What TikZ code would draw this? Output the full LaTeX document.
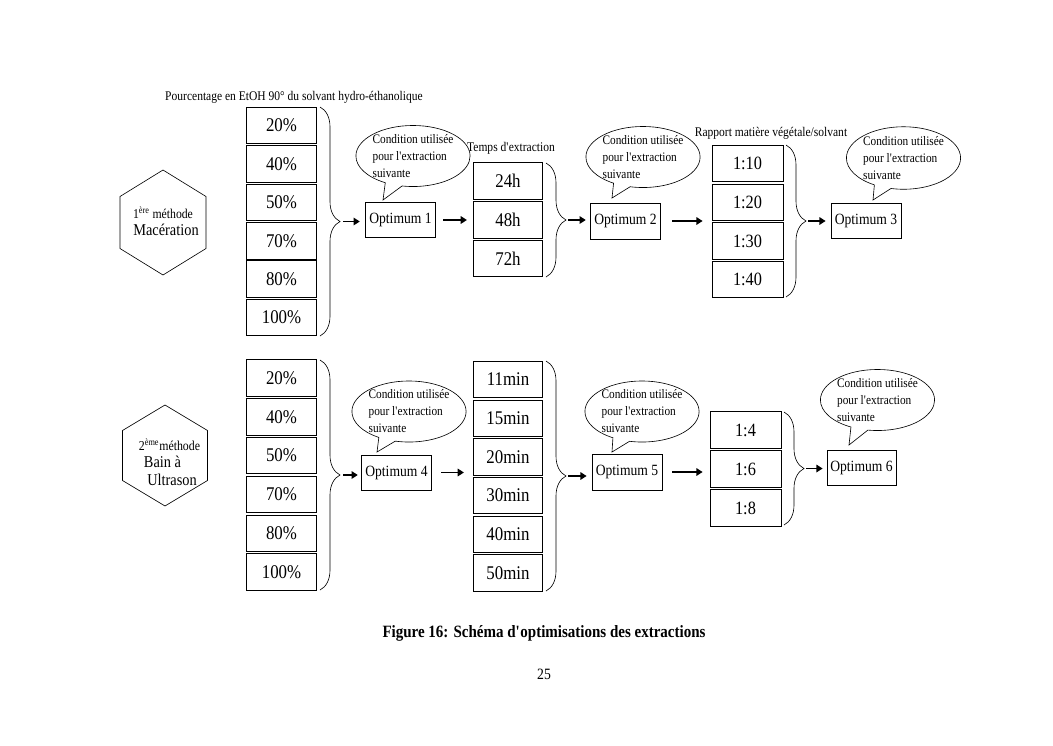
\documentclass[tikz,border=0pt]{standalone}
\usepackage{fontspec}
\setmainfont{Liberation Serif}[FakeStretch=0.87]
\usetikzlibrary{shapes.geometric,shapes.callouts,decorations.pathreplacing,arrows.meta}
\begin{document}
\begin{tikzpicture}[x=0.8pt,y=-0.8pt,
 box/.style={draw, line width=0.6pt, minimum width=55.5pt, minimum height=29.2pt, inner sep=0pt, font=\fontsize{15.5}{17}\selectfont},
 rbox/.style={box, minimum width=56.8pt, font=\fontsize{15}{17}\selectfont},
 optbox/.style={draw, line width=0.6pt, minimum width=56.5pt, minimum height=28pt, inner sep=0pt, font=\fontsize{12.5}{14}\selectfont},
 lab/.style={inner sep=0pt, font=\fontsize{10.6}{12}\selectfont},
 bubble/.style={ellipse callout, draw, line width=0.5pt, inner sep=0pt, minimum width=87pt, minimum height=48pt, align=left, callout pointer arc=18, font=\fontsize{10.4}{13.6}\selectfont},
 brc/.style={decorate, decoration={brace, amplitude=16pt}, line width=0.5pt},
 arr/.style={-{Triangle[length=5pt,width=6pt]}, line width=1.5pt},
 hexline/.style={draw, line width=0.5pt},
 hextext/.style={inner sep=0pt, align=center}
]
\useasboundingbox (0,0) rectangle (1053,745);

% ---------- Top row ----------
\node[lab] (lab1) at (294,97) {Pourcentage en EtOH 90° du solvant hydro-éthanolique};
\node[lab] (lab2) at (511,148) {Temps d\textquotesingle extraction};
\node[lab] (lab3) at (771,133) {Rapport matière végétale/solvant};

% hexagon 1
\coordinate (h1) at (163,222.5);
\draw[hexline] ([shift={(0,-52.5)}]h1) -- ([shift={(43,-26)}]h1) -- ([shift={(43,26)}]h1) -- ([shift={(0,52.5)}]h1) -- ([shift={(-43,26)}]h1) -- ([shift={(-43,-26)}]h1) -- cycle;
\node[hextext, font=\fontsize{10.8}{12}\selectfont] (h1a) at (163,213) {1\textsuperscript{ère} méthode};
\node[hextext, font=\fontsize{13.2}{15}\selectfont] (h1b) at (166,230) {Macération};

\foreach \t [count=\i] in {20,40,50,70,80,100}
  \node[box] (a\i) at (281.5,{125.5+38.4*(\i-1)}) {\t\%};
\foreach \t [count=\i] in {24h,48h,72h}
  \node[box] (t\i) at (508,{181+38.75*(\i-1)}) {\t};
\foreach \t [count=\i] in {1:10,1:20,1:30,1:40}
  \node[rbox] (r\i) at (747.5,{163.5+38.7*(\i-1)}) {\t};

\node[optbox] (o1) at (400.5,220) {Optimum 1};
\node[optbox, minimum height=28.8pt] (o2) at (625.5,221) {Optimum 2};
\node[optbox, minimum width=56pt] (o3) at (866,220.5) {Optimum 3};

% braces
\coordinate (b1s) at (320,107); \coordinate (b1e) at (320,336); \coordinate (b1) at (340,221.5);
\coordinate (b2s) at (546,163); \coordinate (b2e) at (546,277); \coordinate (b2) at (566,220);
\coordinate (b3s) at (786,145); \coordinate (b3e) at (786,297); \coordinate (b3) at (806,221);
\draw[brc] (b1s) -- (b1e);
\draw[brc] (b2s) -- (b2e);
\draw[brc] (b3s) -- (b3e);

% bubbles
\coordinate (q1) at (383,200);
\coordinate (q2) at (612,198);
\coordinate (q3) at (873,200);
\node[bubble, callout absolute pointer={(q1)}] (c1) at (413,156) {Condition utilisée\\pour l\textquotesingle extraction\\suivante};
\node[bubble, callout absolute pointer={(q2)}] (c2) at (643,157) {Condition utilisée\\pour l\textquotesingle extraction\\suivante};
\node[bubble, callout absolute pointer={(q3)}, minimum height=50pt] (c3) at (903.5,158) {Condition utilisée\\pour l\textquotesingle extraction\\suivante};

% arrows
\draw[arr, shorten <=2.4pt, shorten >=4pt] (b1) -- (b1 -| o1.west);
\draw[arr, shorten <=5.6pt, shorten >=4.8pt] (o1.east) -- (o1.east -| t2.west);
\draw[arr, shorten <=1.6pt, shorten >=3.2pt] (b2) -- (b2 -| o2.west);
\draw[arr, shorten <=8.8pt, shorten >=7.2pt] (o2.east) -- (o2.east -| r2.west);
\draw[arr, shorten <=1.6pt, shorten >=4pt] (b3) -- (b3 -| o3.west);

% ---------- Bottom row ----------
\coordinate (h2) at (165,455.5);
\draw[hexline] ([shift={(0,-50.5)}]h2) -- ([shift={(42.5,-25)}]h2) -- ([shift={(42.5,25)}]h2) -- ([shift={(0,50.5)}]h2) -- ([shift={(-42.5,25)}]h2) -- ([shift={(-42.5,-25)}]h2) -- cycle;
\node[hextext, font=\fontsize{10.9}{12}\selectfont] (h2a) at (169.5,445) {2\textsuperscript{ème}méthode};
\node[hextext, font=\fontsize{13.2}{15}\selectfont] (h2b) at (162.5,462) {Bain à};
\node[hextext, font=\fontsize{13.2}{15}\selectfont] (h2c) at (172,480) {Ultrason};

\foreach \t [count=\i] in {20,40,50,70,80,100}
  \node[box] (p\i) at (281.5,{378+38.8*(\i-1)}) {\t\%};
\foreach \t [count=\i] in {11min,15min,20min,30min,40min,50min}
  \node[box] (m\i) at (508,{379.5+38.7*(\i-1)}) {\t};
\foreach \t [count=\i] in {1:4,1:6,1:8}
  \node[rbox] (s\i) at (745.5,{430+39*(\i-1)}) {\t};

\node[optbox] (o4) at (396.5,472.5) {Optimum 4};
\node[optbox, minimum width=56pt, minimum height=28.8pt] (o5) at (627,472) {Optimum 5};
\node[optbox, minimum width=55.2pt] (o6) at (861.5,467.5) {Optimum 6};

\coordinate (b4s) at (320,360); \coordinate (b4e) at (320,590); \coordinate (b4) at (340,475);
\coordinate (b5s) at (546,361); \coordinate (b5e) at (546,591); \coordinate (b5) at (566,476);
\coordinate (b6s) at (784,412); \coordinate (b6e) at (784,525); \coordinate (b6) at (804,468.5);
\draw[brc] (b4s) -- (b4e);
\draw[brc] (b5s) -- (b5e);
\draw[brc] (b6s) -- (b6e);

\coordinate (q4) at (377,452);
\coordinate (q5) at (612,452);
\coordinate (q6) at (849,445);
\node[bubble, callout absolute pointer={(q4)}, minimum height=46pt] (c4) at (409,411.5) {Condition utilisée\\pour l\textquotesingle extraction\\suivante};
\node[bubble, callout absolute pointer={(q5)}, minimum height=46pt] (c5) at (642,411.5) {Condition utilisée\\pour l\textquotesingle extraction\\suivante};
\node[bubble, callout absolute pointer={(q6)}, minimum width=84pt] (c6) at (877.5,400) {Condition utilisée\\pour l\textquotesingle extraction\\suivante};

\draw[arr, shorten <=2.4pt, shorten >=2.4pt] (b4) -- (b4 -| o4.west);
\draw[arr, shorten <=7.2pt, shorten >=7.2pt] (o4.east) -- (o4.east -| m3.west);
\draw[arr, shorten <=1.6pt, shorten >=4pt] (b5) -- (b5 -| o5.west);
\draw[arr, shorten <=8pt, shorten >=5.6pt] (o5.east) -- (o5.east -| s2.west);
\draw[arr, shorten <=1.6pt, shorten >=3.2pt] (b6) -- (b6 -| o6.west);

% caption
\node[inner sep=0pt, font=\bfseries\fontsize{13.8}{15}\selectfont] (cap) at (544,633) {Figure 16: Schéma d\textquotesingle optimisations des extractions};
\node[inner sep=0pt, font=\fontsize{12.6}{14}\selectfont] (pg) at (544,674) {25};
\end{tikzpicture}
\end{document}
